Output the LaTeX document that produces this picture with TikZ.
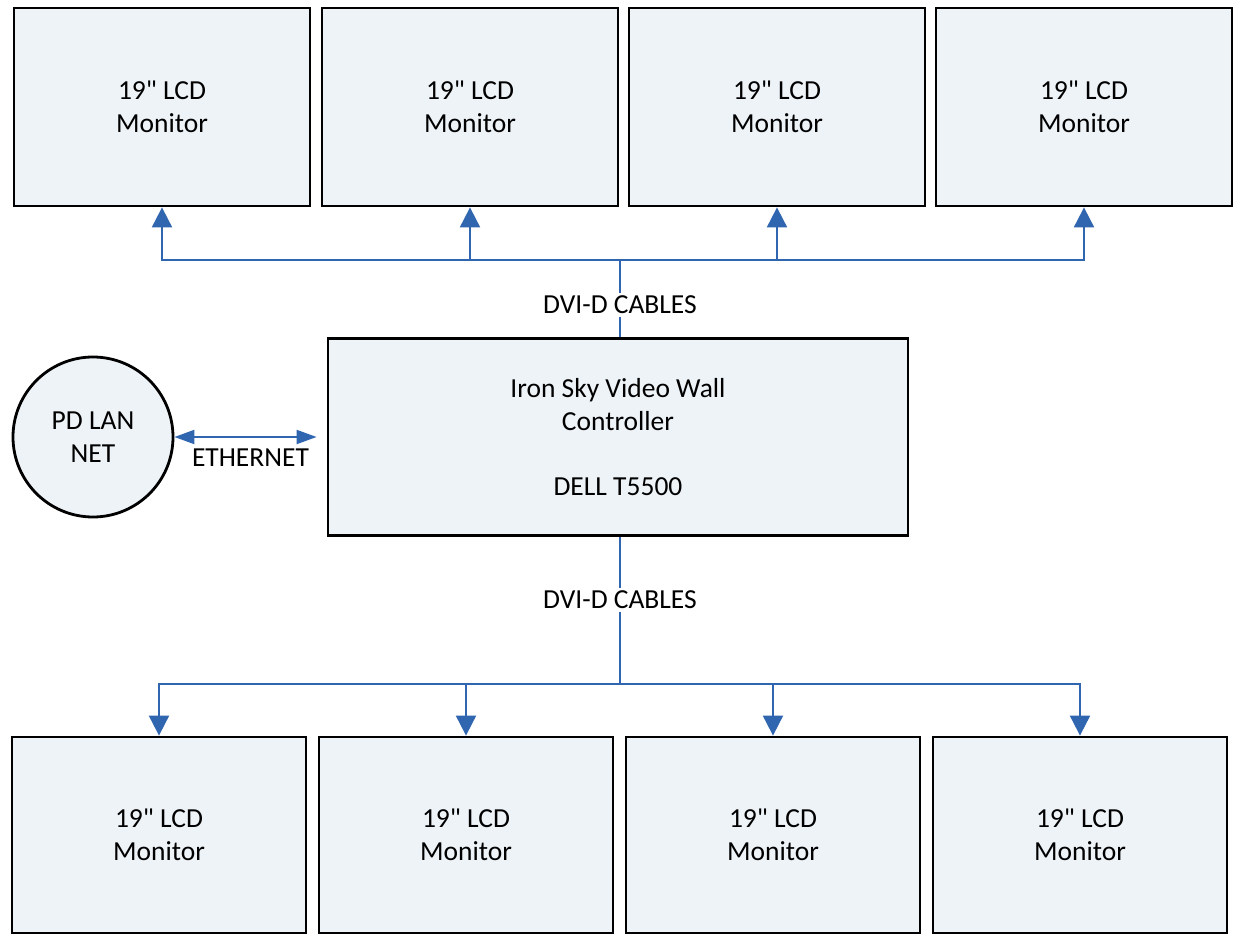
\documentclass[tikz,border=0pt]{standalone}
\usepackage{fontspec}
\setmainfont{Carlito}[Ligatures=TeXOff]
\usetikzlibrary{arrows.meta,positioning}
\definecolor{wallFill}{RGB}{238,243,248}
\definecolor{wallBlue}{RGB}{48,102,176}

\begin{document}
\begin{tikzpicture}[x=0.5pt,y=-0.5pt,
    font=\fontsize{13.75}{16.5}\selectfont,
    monitor/.style={draw=black, line width=1.4pt, fill=wallFill, minimum width=148pt, minimum height=99pt, align=center, inner sep=0pt},
    cable/.style={draw=wallBlue, line width=1pt},
    tip/.style={-{Triangle[width=10pt,length=10pt]}},
    cablelabel/.style={fill=white, inner sep=1.5pt}]

    % Page
    \useasboundingbox (0,0) rectangle (1233,936);

    % Top monitors
    \foreach \i/\x in {1/162, 2/470, 3/777, 4/1084} {
        \node[monitor] (top\i) at (\x,107) {19" LCD\\Monitor};
    }

    % Bottom monitors
    \foreach \i/\x in {1/159, 2/466, 3/773, 4/1080} {
        \node[monitor, minimum width=147pt, minimum height=98pt] (bot\i) at (\x,835) {19" LCD\\Monitor};
    }

    % Controller
    \node[monitor, minimum width=290pt, minimum height=98.5pt] (ctrl) at (618,437)
        {Iron Sky Video Wall\\Controller\\[16pt]DELL T5500};

    % LAN
    \node[monitor, circle, minimum width=0pt, minimum height=0pt, minimum size=80pt] (lan) at (93,437) {PD LAN\\NET};

    % Cables to top row
    \coordinate (topbus) at (620,260);
    \node[cablelabel] (dviup) at (620,305) {DVI-D CABLES};
    \draw[cable] (ctrl.north -| topbus) -- (dviup);
    \draw[cable] (dviup) -- (topbus);
    \foreach \i in {1,...,4}
        \draw[cable, tip] (topbus) -| (top\i.south);

    % Cables to bottom row
    \coordinate (botbus) at (620,684);
    \node[cablelabel] (dvidown) at (620,600) {DVI-D CABLES};
    \draw[cable] (ctrl.south -| botbus) -- (dvidown);
    \draw[cable] (dvidown) -- (botbus);
    \foreach \i in {1,...,4}
        \draw[cable, tip] (botbus) -| (bot\i.north);

    % Ethernet
    \draw[cable, {Triangle[width=7pt,length=10pt]}-{Triangle[width=7pt,length=10pt]}, shorten >=5pt]
        (lan) -- (ctrl) node[midway, below=2pt] (eth) {ETHERNET};

\end{tikzpicture}
\end{document}
